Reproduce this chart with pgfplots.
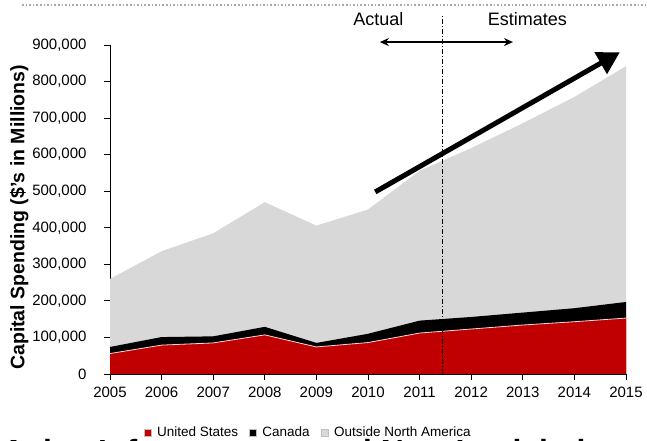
\documentclass[border=0pt]{standalone}
\usepackage{pgfplots}
\pgfplotsset{compat=1.18}
\usepackage{pgfplotstable}
\usepackage{fontspec}
\setmainfont{Liberation Sans}
\usetikzlibrary{arrows.meta}

\definecolor{usred}{RGB}{192,0,0}
\definecolor{restgray}{RGB}{216,216,216}
\definecolor{dotgray}{RGB}{165,168,185}

% cumulative tops of the stacked areas ($ millions)
\pgfplotstableread{
year us     usca   total
2005 56000  74000  260000
2006 79000  101000 336000
2007 85000  103000 385000
2008 107000 129000 470000
2009 74000  85000  406000
2010 86000  110000 450000
2011 112000 146000 556000
2012 123000 156000 618000
2013 134000 168000 686000
2014 143000 180000 758000
2015 153000 197000 842000
}\capex

\begin{document}
\begin{tikzpicture}
\useasboundingbox (0pt,0pt) rectangle (647pt,441pt);
\begin{axis}[
    at={(110pt,67pt)}, anchor=south west,
    scale only axis, width=516pt, height=329pt,
    xmin=2005, xmax=2015, ymin=0, ymax=900000,
    axis lines*=left,
    axis line style={black, line width=0.8pt},
    tick style={black, line width=0.8pt},
    tick align=outside, major tick length=6pt,
    xtick={2005,...,2015},
    ytick={0,100000,...,900000},
    scaled y ticks=false,
    /pgf/number format/assume math mode=true,
    /pgf/number format/fixed,
    /pgf/number format/precision=0,
    ticklabel style={font=\fontsize{15}{15}\selectfont},
    x tick label style={/pgf/number format/1000 sep={}, yshift=-3pt},
    y tick label style={/pgf/number format/1000 sep={,}, xshift=-14pt},
    ylabel={Capital Spending (\$'s in Millions)},
    ylabel style={at={(axis description cs:-0.176,0.476)}, anchor=center,
        font=\bfseries\fontsize{19.5}{19.5}\selectfont},
    clip=false,
    legend image code/.code={\draw[#1, draw=gray!50, line width=0.4pt] (0pt,-3.5pt) rectangle (7pt,3.5pt);},
    legend style={at={(axis description cs:0.384,-0.178)}, anchor=center,
        draw=none, fill=none, inner sep=0pt,
        font=\fontsize{13.5}{13.5}\selectfont,
        /tikz/every even column/.append style={column sep=9pt},
        /tikz/every odd column/.append style={column sep=4pt}},
    legend columns=-1,
]
\addplot[fill=restgray, draw=none, forget plot] table[x=year, y=total] {\capex} \closedcycle;
\addplot[fill=black, draw=none, forget plot] table[x=year, y=usca] {\capex} \closedcycle;
\addplot[fill=usred, draw=none, forget plot] table[x=year, y=us] {\capex} \closedcycle;
\addplot[draw=red!15, line width=0.8pt, forget plot] table[x=year, y=us] {\capex};

\addlegendimage{fill=usred}
\addlegendentry{United States}
\addlegendimage{fill=black}
\addlegendentry{Canada}
\addlegendimage{fill=restgray, draw=restgray!70!white}
\addlegendentry{Outside North America}

% actual / estimates divider
\draw[line width=0.7pt, dash pattern=on 5pt off 2pt on 1pt off 2pt]
    (axis cs:2011.45,0) -- (axis cs:2011.45,980000);
\draw[{Stealth[length=9pt,width=8pt]}-{Stealth[length=9pt,width=8pt]}, line width=1.3pt]
    (axis cs:2010.23,908000) -- (axis cs:2012.81,908000);
\node[inner sep=0pt, font=\fontsize{18}{18}\selectfont] at (axis cs:2010.2,972000) {Actual};
\node[inner sep=0pt, font=\fontsize{18}{18}\selectfont] at (axis cs:2013.09,972000) {Estimates};
% growth arrow
\draw[line width=5pt, -{Triangle[length=22pt,width=24pt]}]
    (axis cs:2010.14,498000) -- (axis cs:2014.88,880000);
\end{axis}
\draw[dotgray, line width=1.6pt, dash pattern=on 1.6pt off 2pt] (22pt,436pt) -- (647pt,436pt);
\node[anchor=base west, inner sep=0pt, font=\bfseries\fontsize{32}{32}\selectfont]
    at (2pt,-21pt) {Asian Infrastructure and New Legislation};
\end{tikzpicture}
\end{document}
